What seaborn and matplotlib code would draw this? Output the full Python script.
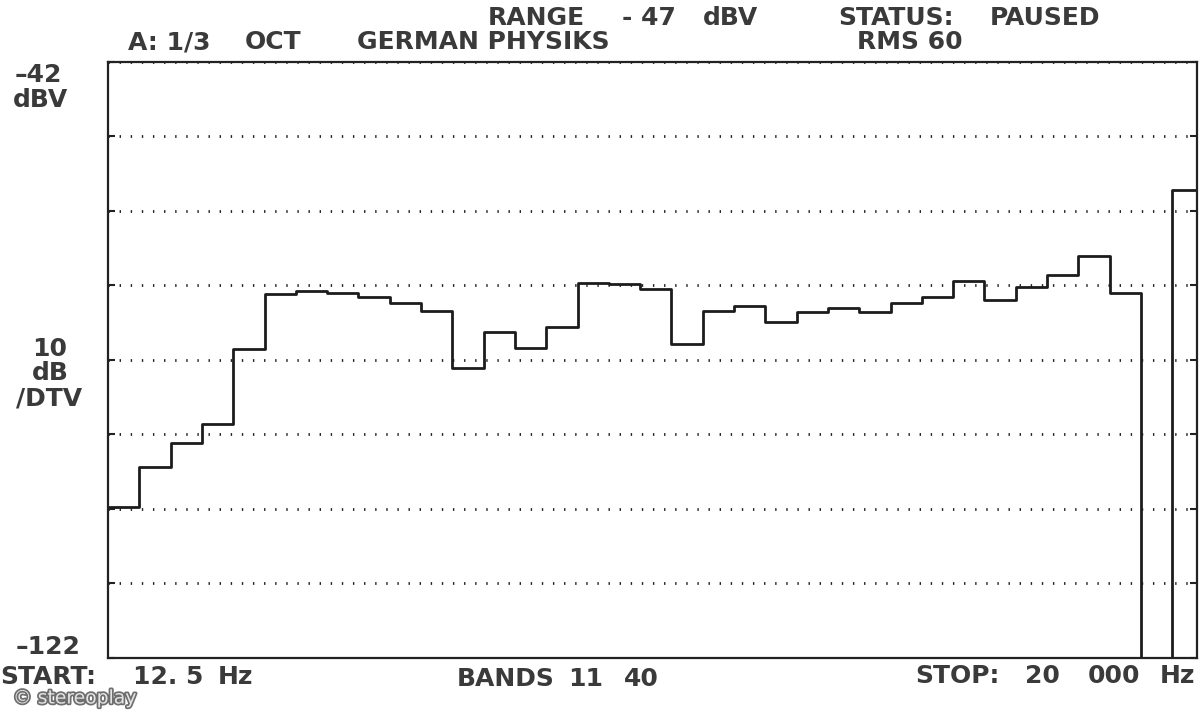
import matplotlib
matplotlib.use("Agg")
import matplotlib.pyplot as plt
import matplotlib.patheffects as pe
import numpy as np
import pandas as pd
import seaborn as sns

# 1/3-octave bands 12.5 Hz .. 20 kHz, then an empty slot and the overall level bar
bands = ["12.5", "16", "20", "25", "31.5", "40", "50", "63", "80", "100",
         "125", "160", "200", "250", "315", "400", "500", "630", "800", "1k",
         "1.25k", "1.6k", "2k", "2.5k", "3.15k", "4k", "5k", "6.3k", "8k", "10k",
         "12.5k", "16k", "20k", "gap", "A"]
levels_dbv = [-101.7, -96.4, -93.2, -90.6, -80.5, -73.2, -72.7, -73.0, -73.5, -74.3,
              -75.4, -83.1, -78.2, -80.4, -77.6, -71.6, -71.8, -72.5, -79.9, -75.4,
              -74.7, -76.9, -75.5, -75.0, -75.6, -74.3, -73.6, -71.4, -74.0, -72.2,
              -70.6, -68.0, -73.0, -140.0, -59.2]
y_top, y_bottom, y_div = -42, -122, 10

sns.set_style("white")
plt.rcParams["font.family"] = ["DejaVu Sans"]
plt.rcParams["font.weight"] = "bold"

fig = plt.figure(figsize=(12, 7.2), dpi=100)
ax = fig.add_axes([108 / 1200, 1 - 658 / 720, 1089 / 1200, 596 / 720])

df = pd.DataFrame({"pos": np.arange(len(bands) + 1),
                   "level": levels_dbv + [levels_dbv[-1]]})
sns.lineplot(data=df, x="pos", y="level", drawstyle="steps-post", estimator=None,
             color="#1c1c1c", linewidth=2.0, ax=ax)

ax.set_xlim(0, 1089 / 31.3)
ax.set_ylim(y_bottom, y_top)
ax.set_yticks(np.arange(y_bottom, y_top + 1, y_div))
ax.set_xticks([])
ax.tick_params(axis="y", direction="in", length=5, width=1.5, color="#222",
               left=True, right=True, labelleft=False)
ax.grid(axis="y", color="#222", linestyle=(0, (0.5, 3.5)), linewidth=2)
ax.set_xlabel("")
ax.set_ylabel("")
for s in ax.spines.values():
    s.set_visible(True)
    s.set_color("#222")
    s.set_linewidth(1.6)

tc = "#3a3a3a"
fs = 18

def put(x, y, s, ha="left", size=fs):
    fig.text(x / 1200, 1 - y / 720, s, ha=ha, va="center", fontsize=size,
             color=tc, fontweight="bold")

# header
put(488, 18, "RANGE")
put(622, 18, "- 47")
put(703, 18, "dBV")
put(838, 18, "STATUS:")
put(990, 18, "PAUSED")
put(128, 42, "A: 1/3")
put(245, 42, "OCT")
put(357, 42, "GERMAN PHYSIKS")
put(857, 42, "RMS 60")

# left scale
put(38, 75, "\u201342", ha="center")
put(41, 100, "dBV", ha="center")
put(50, 349, "10", ha="center")
put(50, 373, "dB", ha="center")
put(49, 398, "/DTV", ha="center")
put(48, 647, "\u2013122", ha="center")

# footer
put(0, 677, "START:")
put(133, 677, "12. 5")
put(218, 677, "Hz")
put(457, 679, "BANDS")
put(568, 679, "11")
put(624, 679, "40")
put(915, 676, "STOP:")
put(1025, 676, "20")
put(1088, 676, "000")
put(1160, 676, "Hz")

fig.text(13 / 1200, 1 - 698 / 720, "\u00a9 stereoplay", ha="left", va="center",
         fontsize=13.5, color="#e4e4e4", fontweight="normal",
         path_effects=[pe.withStroke(linewidth=2.5, foreground="#6e6e6e")])

fig.savefig("out.png", dpi=100, facecolor="white")
plt.close(fig)
